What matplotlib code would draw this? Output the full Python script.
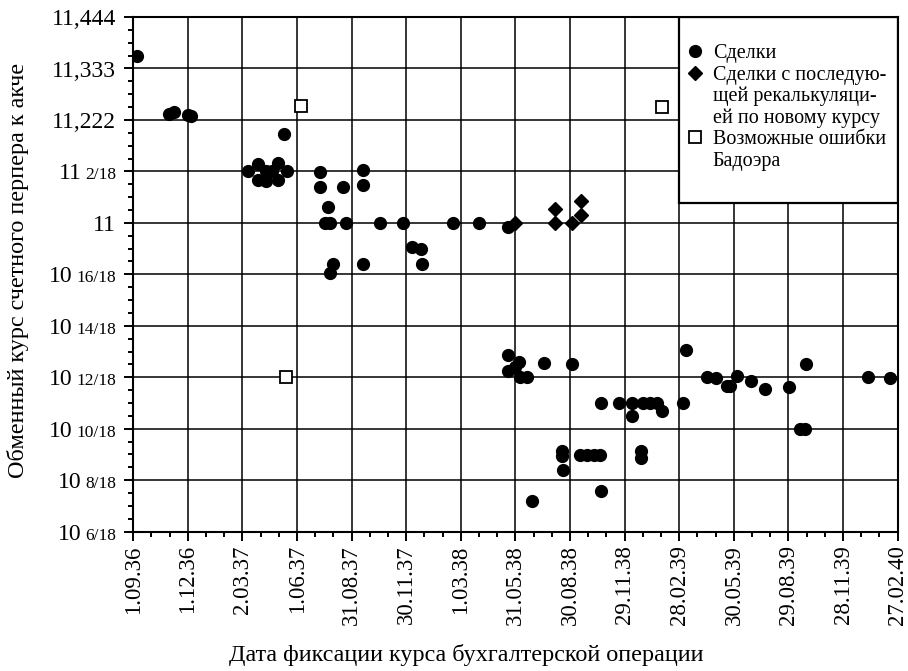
import matplotlib
matplotlib.use('Agg')
import matplotlib.pyplot as plt
import matplotlib.dates as mdates
from matplotlib.transforms import offset_copy
from matplotlib.lines import Line2D
from matplotlib.patches import Rectangle
from matplotlib.ticker import FixedLocator
import numpy as np
from datetime import datetime

plt.rcParams['font.family'] = ['Liberation Serif', 'DejaVu Serif']

# ---------------- data ----------------
deal_dates = [
    '1936-09-07', '1936-10-31', '1936-11-08', '1936-12-02', '1936-12-07',
    '1937-03-11', '1937-03-28', '1937-03-28', '1937-04-10', '1937-04-11',
    '1937-04-20', '1937-04-30', '1937-04-30', '1937-05-11', '1937-05-15',
    '1937-07-09', '1937-07-09', '1937-07-23', '1937-07-18', '1937-07-26',
    '1937-07-31', '1937-07-26', '1937-08-17', '1937-08-21', '1937-09-19',
    '1937-09-19', '1937-09-19', '1937-10-17', '1937-11-25', '1937-12-09',
    '1937-12-24', '1937-12-27', '1938-02-16', '1938-03-31', '1938-05-19',
    '1938-05-19', '1938-06-06', '1938-05-19', '1938-05-30', '1938-06-07',
    '1938-06-20', '1938-06-27', '1938-07-18', '1938-08-16', '1938-08-16',
    '1938-08-18', '1938-09-02', '1938-09-16', '1938-09-28', '1938-10-09',
    '1938-10-19', '1938-10-20', '1938-10-20', '1938-11-20', '1938-12-12',
    '1938-12-30', '1939-01-10', '1939-01-22', '1939-01-30', '1938-12-12',
    '1938-12-27', '1938-12-27', '1939-03-06', '1939-03-11', '1939-04-15',
    '1939-04-30', '1939-05-19', '1939-05-24', '1939-06-05', '1939-06-27',
    '1939-07-21', '1939-08-30', '1939-09-18', '1939-09-25', '1939-09-28',
    '1940-01-09', '1940-02-15',
]
deal_rates = [
    11.360, 11.234, 11.239, 11.233, 11.231,
    11.113, 11.127, 11.093, 11.111, 11.091,
    11.111, 11.129, 11.093, 11.192, 11.113,
    11.109, 11.078, 11.035, 11.000, 11.000,
    10.911, 10.892, 11.078, 11.000, 11.114,
    11.082, 10.911, 11.000, 11.000, 10.947,
    10.943, 10.911, 11.000, 11.000, 10.992,
    10.715, 10.700, 10.681, 10.688, 10.667,
    10.667, 10.400, 10.697, 10.508, 10.497,
    10.467, 10.695, 10.499, 10.499, 10.499,
    10.499, 10.422, 10.612, 10.612, 10.612,
    10.612, 10.612, 10.612, 10.594, 10.583,
    10.508, 10.492, 10.612, 10.726, 10.668,
    10.666, 10.648, 10.648, 10.669, 10.659,
    10.641, 10.645, 10.554, 10.554, 10.695,
    10.668, 10.666,
]

recalc_dates = ['1938-05-30', '1938-08-05', '1938-08-05', '1938-09-02',
                '1938-09-18', '1938-09-18']
recalc_rates = [11.000, 11.031, 11.000, 11.000, 11.048, 11.017]

error_dates = ['1937-05-13', '1937-06-08', '1939-01-31']
error_rates = [10.667, 11.253, 11.251]

x_tick_labels = ['1.09.36', '1.12.36', '2.03.37', '1.06.37', '31.08.37',
                 '30.11.37', '1.03.38', '31.05.38', '30.08.38', '29.11.38',
                 '28.02.39', '30.05.39', '29.08.39', '28.11.39', '27.02.40']

y_tick_values = [11 + 8/18, 11 + 6/18, 11 + 4/18, 11 + 2/18, 11,
                 10 + 16/18, 10 + 14/18, 10 + 12/18, 10 + 10/18,
                 10 + 8/18, 10 + 6/18]
y_tick_whole = ['11,444', '11,333', '11,222', '11', '11',
                '10', '10', '10', '10', '10', '10']
y_tick_frac = ['', '', '', '2/18', '', '16/18', '14/18', '12/18',
               '10/18', '8/18', '6/18']

legend_labels = ['Сделки', 'Сделки с последую-', 'щей рекалькуляци-',
                 'ей по новому курсу', 'Возможные ошибки', 'Бадоэра']

x_label = 'Дата фиксации курса бухгалтерской операции'
y_label = 'Обменный курс счетного перпера к акче'

# ---------------- helpers ----------------
def parse_label(s):
    d, m, y = s.split('.')
    return datetime(1900 + int(y), int(m), int(d))

def to_num(lst):
    return mdates.date2num([datetime.strptime(s, '%Y-%m-%d') for s in lst])

x_ticks = mdates.date2num([parse_label(s) for s in x_tick_labels])

# ---------------- figure ----------------
fig = plt.figure(figsize=(9.08, 6.71), dpi=100)
ax = fig.add_axes([0.1468, 0.2076, 0.84185, 0.76706])

ax.plot(to_num(deal_dates), deal_rates, ls='none', marker='o', ms=8.5,
        color='black', zorder=3)
ax.plot(to_num(recalc_dates), recalc_rates, ls='none', marker='D', ms=7.2,
        color='black', zorder=3)
ax.plot(to_num(error_dates), error_rates, ls='none', marker='s', ms=9,
        mfc='white', mec='black', mew=1.3, zorder=3)

ax.set_xlim(x_ticks[0], x_ticks[-1])
ax.set_ylim(y_tick_values[-1], y_tick_values[0])

ax.set_xticks(x_ticks)
ax.set_xticklabels(x_tick_labels, rotation=90, fontsize=16.5)
step = (x_ticks[1] - x_ticks[0]) / 3
ax.xaxis.set_minor_locator(FixedLocator(np.arange(x_ticks[0], x_ticks[-1] + 1e-6, step)))

ax.set_yticks(y_tick_values)
ax.set_yticklabels([''] * len(y_tick_values))
ax.yaxis.set_minor_locator(FixedLocator(np.arange(10 + 6/18, 11 + 8/18 + 1e-6, 1/36)))

ax.tick_params(which='major', direction='out', length=6.7, width=1.4, color='black', pad=3)
ax.tick_params(which='minor', direction='out', length=3.6, width=1.4, color='black')

ax.set_axisbelow(True)
ax.grid(True, which='major', color='black', lw=1.1)
for sp in ax.spines.values():
    sp.set_linewidth(1.5)

# y tick labels: whole part big, fraction part smaller, shared baseline
big = 17.0
small = 12.5
ytrans = ax.get_yaxis_transform()
renderer = fig.canvas.get_renderer()
right_pad = 12.5  # points from spine
base_shift = -0.34 * big
for v, w, f in zip(y_tick_values, y_tick_whole, y_tick_frac):
    off = right_pad
    if f:
        tf = ax.text(0, v, f, fontsize=small, ha='right', va='baseline',
                     transform=offset_copy(ytrans, fig=fig, x=-off, y=base_shift, units='points'),
                     clip_on=False)
        wpx = tf.get_window_extent(renderer).width
        off += wpx * 72 / fig.dpi + 2.5
    ax.text(0, v, w, fontsize=big, ha='right', va='baseline',
            transform=offset_copy(ytrans, fig=fig, x=-off, y=base_shift, units='points'),
            clip_on=False)

# legend area
x0 = 0.714
y0 = 0.6386
rect = Rectangle((x0, y0), 1 - x0, 1 - y0, transform=ax.transAxes,
                 facecolor='white', edgecolor='black', lw=1.6, zorder=1)
ax.add_patch(rect)

empty = Line2D([], [], ls='none')
handles = [Line2D([], [], ls='none', marker='o', ms=8.5, color='black'),
           Line2D([], [], ls='none', marker='D', ms=7.2, color='black'),
           empty, empty,
           Line2D([], [], ls='none', marker='s', ms=9, mfc='white', mec='black', mew=1.3),
           empty]
leg = ax.legend(handles, legend_labels, loc='upper left',
                bbox_to_anchor=(0.7257, 0.947), frameon=False,
                fontsize=14.5, handlelength=0.7, handletextpad=0.53,
                labelspacing=0.11, borderpad=0, borderaxespad=0)
leg.set_zorder(5)

fig.text(18 / 908, 1 - 270 / 671, y_label, rotation=90, ha='center',
         va='center', fontsize=17.4)
fig.text(466 / 908, 1 - 655 / 671, x_label, ha='center', va='center',
         fontsize=17.4)

fig.savefig('out.png', dpi=100)
